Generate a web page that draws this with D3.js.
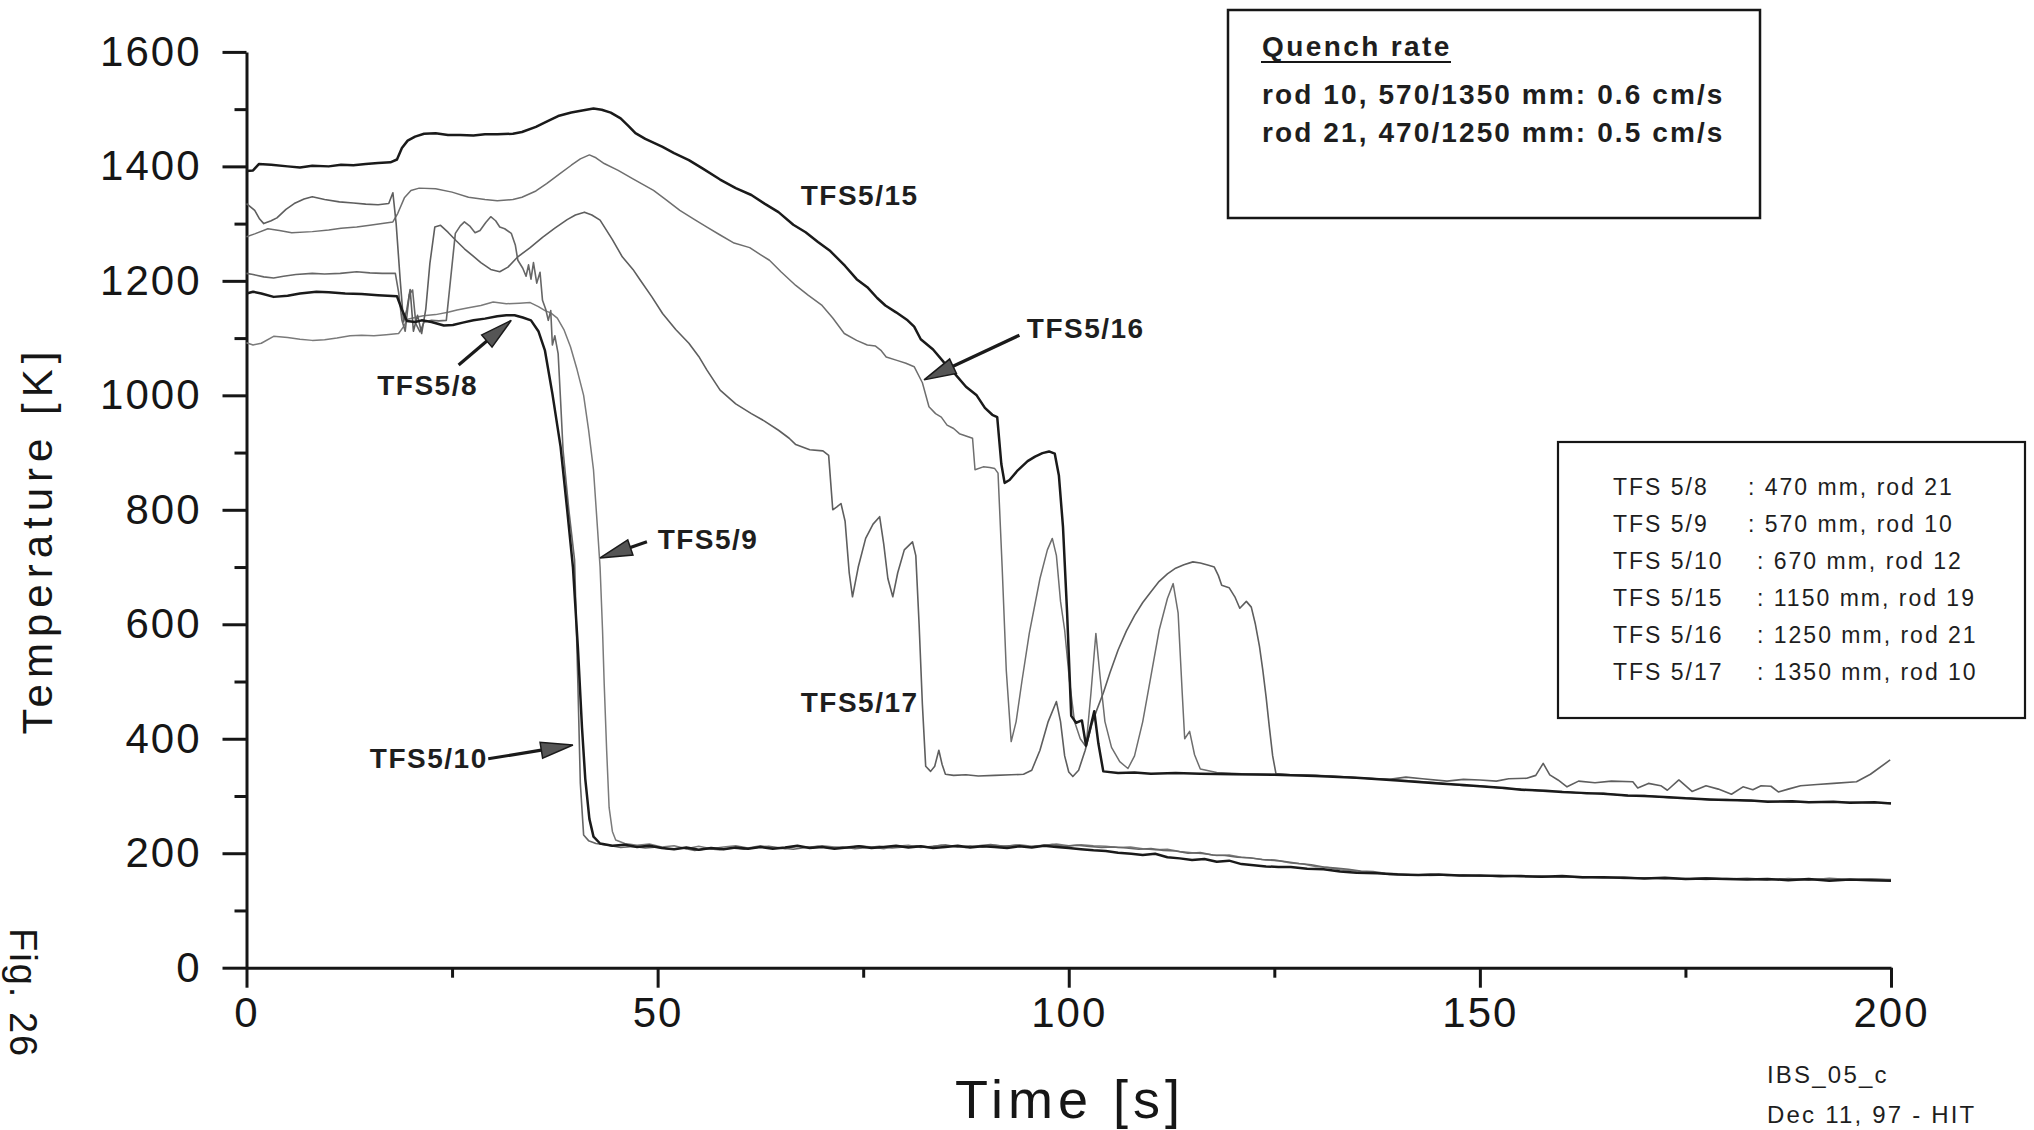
<!DOCTYPE html>
<html>
<head>
<meta charset="utf-8">
<script src="https://cdn.jsdelivr.net/npm/d3@7"></script>
<style>
  body { margin: 0; background: #fff; }
  svg { display: block; }
</style>
</head>
<body>
<svg id="chart" width="2034" height="1130"></svg>
<script>
// ---- Temperature histories, [time s, temperature K] ----
const tfs5_15 = [[0,1392],[0.8,1393],[1.5,1404],[3,1403],[5,1400],[6.5,1398],[8,1401],[10,1400],[11.5,1403],[13,1402],[14.5,1404],[16,1406],[17.5,1407],[18.3,1412],[18.9,1432],[19.6,1445],[20.5,1452],[21.6,1457],[23,1458],[24.5,1455],[26,1455],[27.6,1454],[29,1456],[30.5,1456],[32.4,1457],[33.5,1460],[35.2,1469],[36.5,1478],[37.9,1488],[39.5,1494],[41,1498],[42.2,1501],[43.2,1499],[44.3,1494],[45.5,1484],[46.5,1470],[47.3,1458],[48.5,1448],[50.6,1434],[52,1423],[53.8,1411],[55.5,1396],[57.6,1377],[59.5,1362],[61.4,1350],[63,1335],[64.7,1320],[66.5,1298],[68,1285],[69.5,1268],[71,1252],[72.8,1226],[74.2,1203],[75.5,1189],[76.7,1170],[77.7,1157],[79,1145],[80.4,1131],[81.2,1120],[82,1098],[83.5,1080],[84.8,1058],[86,1040],[87.5,1015],[88.8,1000],[89.8,978],[90.7,966],[91.3,962],[91.8,880],[92.2,847],[92.8,852],[93.8,869],[95,885],[95.9,893],[96.8,899],[97.6,902],[98.3,898],[98.8,860],[99.3,770],[99.8,620],[100.3,440],[100.9,428],[101.6,432],[102.1,388],[102.6,418],[103.1,448],[103.6,392],[104.2,343],[106,340],[108,341],[110,339],[113,340],[116,339],[120,338],[125,337],[130,335],[135,332],[140,327],[145,322],[148,319],[150,317],[153,314],[155,311],[158,309],[160,307],[163,305],[165,304],[168,301],[170,300],[173,298],[175,296],[178,294],[180,293],[183,292],[185,290],[188,291],[190,289],[193,290],[195,288],[198,289],[200,287]];

const tfs5_16 = [[0,1277],[1,1282],[2.6,1291],[4,1288],[5.5,1284],[8,1286],[10,1289],[11.5,1292],[13.4,1294],[15,1297],[16.5,1300],[17.8,1303],[18.4,1318],[19.2,1345],[20,1358],[21,1362],[23,1361],[25,1355],[27,1346],[29,1342],[30.5,1340],[32.4,1342],[33.5,1346],[35.2,1357],[36.5,1370],[38,1386],[39.5,1402],[40.6,1413],[41.7,1420],[42.5,1415],[43.5,1405],[45.2,1393],[47,1378],[49.5,1358],[51,1342],[52.7,1323],[54.5,1307],[56,1294],[57.5,1281],[59.3,1266],[61.2,1258],[62.5,1246],[63.6,1236],[65,1216],[66.8,1192],[68.3,1175],[70,1157],[71.3,1135],[72.7,1108],[74.2,1096],[75.5,1088],[76.5,1086],[77.2,1078],[77.8,1067],[79.1,1061],[80.2,1056],[81.2,1050],[82.2,1022],[83,980],[83.8,968],[84.5,962],[85.2,948],[86,942],[86.7,933],[87.5,929],[88.3,925],[88.6,870],[89.6,875],[90.4,874],[91,872],[91.4,864],[91.9,700],[92.4,520],[93,395],[93.6,430],[94.3,500],[95.2,584],[96.5,680],[97.4,730],[98,750],[98.5,720],[99,640],[99.5,590],[100.1,500],[100.7,430],[101.4,400],[102.1,386],[102.7,480],[103.3,584],[103.8,510],[104.4,430],[105.2,385],[106.2,360],[107.2,348],[108,370],[109,430],[110,510],[111,590],[112,645],[112.7,671],[113.3,620],[113.8,480],[114.1,400],[114.7,413],[115.3,372],[116,347],[118,341],[121,339],[125,338],[130,336],[135,332],[140,328],[145,323],[148,318],[150,318],[153,313],[155,312],[158,308],[160,308],[163,304],[165,305],[168,300],[170,301],[173,297],[175,297],[178,293],[180,294],[183,291],[185,291],[188,289],[190,290],[193,289],[195,289],[198,288],[200,288]];

const tfs5_17 = [[0,1335],[1,1323],[1.6,1308],[2.1,1300],[3,1305],[3.7,1310],[4.8,1325],[5.8,1335],[7,1343],[8,1347],[9.5,1342],[11.3,1338],[13,1336],[14.5,1334],[16,1333],[17.3,1335],[17.8,1354],[18.2,1300],[18.7,1200],[19.1,1128],[19.5,1150],[19.9,1185],[20.3,1112],[20.8,1140],[21.3,1108],[21.8,1150],[22.3,1230],[22.9,1294],[23.6,1297],[24.5,1285],[25.5,1270],[26.5,1256],[27.5,1244],[28.5,1232],[29.7,1220],[30.8,1216],[31.8,1224],[33,1242],[34.5,1258],[36,1276],[37.5,1292],[39,1307],[40,1315],[41.1,1320],[42,1315],[43,1306],[44.5,1272],[45.7,1242],[47,1220],[47.9,1201],[49.3,1172],[50.6,1143],[52.2,1115],[53.8,1091],[55,1068],[56,1044],[57.6,1009],[59.5,985],[61.4,968],[63,955],[64.7,939],[66,925],[66.8,914],[68.5,905],[70.1,903],[70.8,895],[71.3,800],[71.8,805],[72.3,811],[72.8,780],[73.3,690],[73.7,648],[74.4,700],[75.3,750],[76.2,775],[77,788],[77.5,740],[78,680],[78.6,648],[79.2,690],[80,730],[81,744],[81.4,720],[81.8,600],[82.2,460],[82.6,352],[83.2,343],[83.7,352],[84.2,380],[84.6,355],[85,338],[86,336],[87.5,337],[89,335],[91,336],[93,337],[94.5,338],[95.5,345],[96.5,380],[97.5,430],[98.5,465],[99,430],[99.5,370],[100,342],[100.5,334],[101.2,345],[102,380],[102.8,425],[103.4,450],[104.2,480],[105,515],[106,555],[107,588],[108,615],[109,638],[110,657],[111,675],[112,688],[113,698],[114,704],[115.1,709],[116,707],[117,703],[117.7,700],[118.2,685],[118.6,668],[119.5,664],[120.2,648],[120.8,628],[121.6,640],[122.2,630],[122.7,600],[123.2,561],[123.6,520],[124,473],[124.4,420],[124.8,370],[125.2,339],[127,337],[130,336],[133,334],[136,331],[139,329],[141,333],[143,330],[146,326],[148,329],[150,328],[152,326],[153.5,330],[155.7,331],[156.8,336],[157.7,357],[158.5,337],[159.5,328],[160.6,316],[162,326],[164,323],[166,326],[168.6,325],[169.2,314],[170.5,322],[172,318],[172.8,310],[174.2,328],[175.8,308],[177.5,318],[179,312],[180.6,303],[182,316],[183.2,311],[184.2,318],[185.4,317],[186.3,307],[187.5,312],[189,318],[191,320],[193,322],[195.8,325],[197.5,338],[199.9,363]];

const tfs5_8 = [[0,1178],[0.8,1181],[1.8,1178],[3.3,1172],[5,1174],[6.5,1178],[8.5,1181],[10,1180],[12,1178],[14,1177],[16,1175],[18.3,1173],[18.9,1150],[19.5,1130],[20.5,1128],[21.3,1131],[22.5,1128],[24,1122],[25.1,1123],[26.3,1127],[27.6,1131],[29,1134],[30.5,1138],[31.6,1140],[32.6,1140],[33.6,1136],[34.6,1131],[35.5,1112],[36.3,1078],[37.2,1003],[38.2,910],[39,800],[39.7,700],[40.3,560],[40.8,420],[41.2,330],[41.7,260],[42.2,229],[43,217],[44.5,213],[46,215],[47.5,211],[49,213],[50.5,209],[52,207],[53.5,210],[55,206],[56.5,209],[58,207],[59.5,210],[61,208],[62.5,211],[64,208],[65.5,210],[67,213],[68.5,209],[70,211],[71.5,208],[73,210],[74.5,212],[76,209],[77.5,211],[79,213],[80.5,210],[82,212],[83.5,209],[85,211],[86.5,213],[88,210],[89.5,212],[91,211],[92.5,209],[94,212],[95.5,210],[97,213],[98.5,211],[100,209],[101.5,207],[103,205],[104.5,204],[106,201],[107.6,199],[109,197],[110.5,199],[112,193],[113.5,191],[115,188],[116.5,190],[118,185],[119.5,187],[121,181],[122.5,179],[124,177],[125.5,176],[127,176],[129,173],[131,172],[133,168],[135,166],[137.5,165],[140,163],[142.5,162],[145,163],[147.5,161],[150,161],[152.5,160],[155,160],[157.5,159],[160,160],[162.5,158],[165,158],[167.5,157],[170,156],[172.5,157],[175,155],[177.5,156],[180,155],[182.5,154],[185,155],[187.5,153],[190,155],[192.5,152],[195,154],[197.5,153],[200,152]];

const tfs5_9 = [[0,1092],[0.8,1088],[1.8,1091],[3.3,1103],[5,1101],[6.5,1098],[8,1096],[9.5,1097],[11,1100],[12.6,1104],[14,1105],[15.5,1104],[17,1106],[18.5,1108],[19.1,1120],[19.6,1133],[20.5,1136],[21.5,1139],[23,1141],[24.5,1145],[25.6,1149],[27,1153],[28.5,1157],[30,1163],[31.6,1160],[33.2,1161],[34.5,1162],[35.5,1155],[36.3,1148],[37,1144],[37.8,1135],[38.6,1115],[39.4,1085],[40.2,1045],[41,1000],[41.6,940],[42.2,870],[42.7,765],[43,700],[43.3,590],[43.5,497],[43.8,380],[44.1,280],[44.5,238],[44.9,223],[46,217],[47.5,214],[49,216],[50.5,211],[52,213],[53.5,208],[55,212],[56.5,208],[58,211],[59.5,213],[61,209],[62.5,213],[64,210],[65.5,208],[67,212],[68.5,210],[70,213],[71.5,211],[73,209],[74.5,213],[76,211],[77.5,208],[79,212],[80.5,214],[82,210],[83.5,212],[85,215],[86.5,211],[88,213],[89.5,211],[91,214],[92.5,212],[94,215],[95.5,212],[97,214],[98.5,216],[100,213],[101.5,215],[103,213],[104.5,212],[106,210],[107.5,211],[109,208],[110.5,206],[112,207],[113.5,203],[115,201],[116.5,199],[118,196],[119.5,197],[121,193],[122.5,191],[124,188],[125.5,187],[127,183],[128.5,181],[130,177],[131.5,175],[133,171],[134.5,170],[136,167],[137.5,166],[139,163],[140.5,163],[142,162],[144,161],[146,162],[148,160],[150,161],[152.5,159],[155,160],[157.5,158],[160,159],[162.5,157],[165,158],[167.5,156],[170,157],[172.5,155],[175,156],[177.5,154],[180,156],[182.5,155],[185,153],[187.5,156],[190,154],[192.5,155],[195,153],[197.5,155],[200,154]];

const tfs5_10 = [[0,1213],[0.8,1211],[2.1,1207],[3.3,1205],[4.5,1208],[6,1211],[8,1213],[9.5,1212],[11.4,1213],[13.4,1216],[15,1214],[16.5,1213],[18.1,1213],[18.5,1180],[18.9,1131],[19.3,1112],[19.8,1176],[20.2,1184],[20.6,1125],[21.1,1111],[21.6,1128],[22.5,1131],[23.4,1130],[24.3,1131],[24.8,1200],[25.4,1283],[26,1296],[26.5,1303],[27.2,1295],[27.8,1284],[28.4,1288],[29.1,1302],[29.7,1312],[30.3,1305],[30.8,1294],[31.4,1291],[32.2,1283],[32.7,1262],[33,1236],[33.6,1222],[34,1208],[34.3,1228],[34.6,1203],[34.9,1232],[35.3,1196],[35.7,1215],[36,1166],[36.4,1150],[36.7,1131],[37,1148],[37.2,1088],[37.5,1104],[37.9,1073],[38.2,990],[38.5,904],[39.2,800],[39.9,712],[40.3,497],[40.6,322],[41,232],[41.6,222],[42.5,217],[44,214],[45.5,210],[47,212],[48.5,209],[50,211],[51.5,207],[53,209],[54.5,205],[56,208],[57.5,206],[59,209],[60.5,207],[62,210],[63.5,212],[65,209],[66.5,207],[68,210],[69.5,212],[71,209],[72.5,211],[74,208],[75.5,210],[77,212],[78.5,209],[80,211],[81.5,213],[83,211],[84.5,214],[86,212],[87.5,210],[89,213],[90.5,215],[92,212],[93.5,214],[95,211],[96.5,213],[98,215],[99.5,212],[101,214],[102.5,212],[104,210],[105.5,211],[107,209],[108.5,207],[110,208],[111.5,205],[113,204],[114.5,200],[116,201],[117.5,197],[119,196],[120.5,193],[122,192],[123.5,189],[125,188],[126.5,185],[128,182],[129.5,180],[131,176],[132.5,174],[134,172],[135.5,169],[137,168],[138.5,165],[140,164],[142,162],[144,163],[146,161],[148,162],[150,160],[152.5,161],[155,159],[157.5,160],[160,158],[162.5,159],[165,157],[167.5,158],[170,156],[172.5,157],[175,155],[177.5,157],[180,155],[182.5,156],[185,154],[187.5,155],[190,153],[192.5,156],[195,154],[197.5,155],[200,153]];

// ---- Axis ticks ----
const xMajorTicks = [0, 50, 100, 150, 200];
const xMinorTicks = [25, 75, 125, 175];
const yMajorTicks = [0, 200, 400, 600, 800, 1000, 1200, 1400, 1600];
const yMinorTicks = [100, 300, 500, 700, 900, 1100, 1300, 1500];

// ---- Legend / info text ----
const legendNames = ["TFS 5/8", "TFS 5/9", "TFS 5/10", "TFS 5/15", "TFS 5/16", "TFS 5/17"];
const legendInfo = [": 470 mm, rod 21", ": 570 mm, rod 10", ": 670 mm, rod 12", ": 1150 mm, rod 19", ": 1250 mm, rod 21", ": 1350 mm, rod 10"];
const quenchTitle = "Quench rate";
const quenchLines = ["rod 10, 570/1350 mm: 0.6 cm/s", "rod 21, 470/1250 mm: 0.5 cm/s"];

// ---- Curve labels: text, anchor [s, K], optional arrow from/to [s, K] ----
const calloutText = ["TFS5/15", "TFS5/16", "TFS5/8", "TFS5/9", "TFS5/10", "TFS5/17"];
const calloutAnchor = [[67.4, 1332], [94.9, 1100], [15.9, 1000], [50.0, 731], [15.0, 349], [67.4, 447]];
const calloutArrowFrom = [null, [94.0, 1105], [25.8, 1053], [48.7, 744], [29.4, 365], null];
const calloutArrowTo = [null, [82.4, 1027], [32.2, 1131], [43.0, 716], [39.7, 389], null];

// ---- Drawing ----
const svg = d3.select("#chart");
svg.append("rect").attr("width", 2034).attr("height", 1130).attr("fill", "#fff");

const x = d3.scaleLinear().domain([0, 200]).range([246.5, 1891]);
const y = d3.scaleLinear().domain([0, 1600]).range([967.7, 51.9]);

const FONT = "'Liberation Sans', Arial, Helvetica, sans-serif";
const INK = "#161616";

// series styling (order = draw order, dark lines on top)
const seriesList = [
  { data: tfs5_9,  color: "#7a7a7a", width: 1.5 },
  { data: tfs5_10, color: "#666",    width: 1.6 },
  { data: tfs5_16, color: "#6e6e6e", width: 1.5 },
  { data: tfs5_17, color: "#5e5e5e", width: 1.6 },
  { data: tfs5_8,  color: "#1a1a1a", width: 2.5 },
  { data: tfs5_15, color: "#1a1a1a", width: 2.5 }
];

// axes
const fmt = d3.format("d");
const yMinor = svg.append("g").attr("transform", `translate(${x(0)},0)`)
  .call(d3.axisLeft(y).tickValues(yMinorTicks).tickSize(12).tickSizeOuter(0).tickFormat(""));
yMinor.select(".domain").remove();
const yMajor = svg.append("g").attr("transform", `translate(${x(0)},0)`)
  .call(d3.axisLeft(y).tickValues(yMajorTicks).tickSize(24).tickSizeOuter(0).tickPadding(21).tickFormat(fmt));

const xMinor = svg.append("g").attr("transform", `translate(0,${y(0)})`)
  .call(d3.axisBottom(x).tickValues(xMinorTicks).tickSize(10).tickSizeOuter(0).tickFormat(""));
xMinor.select(".domain").remove();
const xMajor = svg.append("g").attr("transform", `translate(0,${y(0)})`)
  .call(d3.axisBottom(x).tickValues(xMajorTicks).tickSize(20).tickSizeOuter(0).tickPadding(9).tickFormat(fmt));

svg.selectAll(".domain").attr("stroke", INK).attr("stroke-width", 3);
svg.selectAll(".tick line").attr("stroke", INK).attr("stroke-width", 3);
[yMajor, xMajor].forEach(g => g.selectAll("text")
  .attr("fill", INK)
  .style("font-family", FONT)
  .style("font-size", "42px")
  .style("letter-spacing", "2px"));

// axis titles
svg.append("text")
  .attr("transform", `translate(52,540) rotate(-90)`)
  .attr("text-anchor", "middle")
  .attr("fill", INK)
  .style("font-family", FONT).style("font-size", "42px").style("letter-spacing", "6px")
  .text("Temperature [K]");
svg.append("text")
  .attr("x", 1070).attr("y", 1118)
  .attr("text-anchor", "middle")
  .attr("fill", INK)
  .style("font-family", FONT).style("font-size", "54px").style("letter-spacing", "5px")
  .text("Time [s]");

// curves
const line = d3.line().x(d => x(d[0])).y(d => y(d[1]));
svg.append("g").selectAll("path").data(seriesList).join("path")
  .attr("d", s => line(s.data))
  .attr("fill", "none")
  .attr("stroke", s => s.color)
  .attr("stroke-width", s => s.width)
  .attr("stroke-linejoin", "round");

// curve labels and arrows
const callouts = calloutText.map((t, i) => ({ text: t, at: calloutAnchor[i], from: calloutArrowFrom[i], to: calloutArrowTo[i] }));
const cg = svg.append("g");
cg.selectAll("text").data(callouts).join("text")
  .attr("x", d => x(d.at[0])).attr("y", d => y(d.at[1]))
  .attr("fill", "#1e1e1e")
  .style("font-family", FONT).style("font-size", "28px").style("font-weight", "bold").style("letter-spacing", "1.5px")
  .text(d => d.text);

callouts.filter(d => d.from).forEach(d => {
  const x1 = x(d.from[0]), y1 = y(d.from[1]), x2 = x(d.to[0]), y2 = y(d.to[1]);
  const ang = Math.atan2(y2 - y1, x2 - x1);
  const L = 32, W = 8;
  const bx = x2 - L * Math.cos(ang), by = y2 - L * Math.sin(ang);
  cg.append("line")
    .attr("x1", x1).attr("y1", y1).attr("x2", bx).attr("y2", by)
    .attr("stroke", "#1a1a1a").attr("stroke-width", 3.2);
  const px = -Math.sin(ang) * W, py = Math.cos(ang) * W;
  cg.append("path")
    .attr("d", `M${x2},${y2}L${bx + px},${by + py}L${bx - px},${by - py}Z`)
    .attr("fill", "#555").attr("stroke", "#1a1a1a").attr("stroke-width", 1.5);
});

// quench rate box
const qb = svg.append("g");
qb.append("rect").attr("x", 1228).attr("y", 10).attr("width", 532).attr("height", 208)
  .attr("fill", "none").attr("stroke", INK).attr("stroke-width", 2.5);
qb.append("text").attr("x", 1262).attr("y", 56)
  .attr("fill", "#1e1e1e")
  .style("font-family", FONT).style("font-size", "28px").style("font-weight", "bold").style("letter-spacing", "2.4px")
  .text(quenchTitle);
qb.append("line").attr("x1", 1261).attr("x2", 1451).attr("y1", 62).attr("y2", 62)
  .attr("stroke", INK).attr("stroke-width", 2.2);
qb.selectAll("text.ql").data(quenchLines).join("text").attr("class", "ql")
  .attr("x", 1262).attr("y", (d, i) => 104 + i * 38)
  .attr("fill", "#1e1e1e")
  .style("font-family", FONT).style("font-size", "28px").style("font-weight", "bold").style("letter-spacing", "2.1px")
  .text(d => d);

// legend box
const lg = svg.append("g");
lg.append("rect").attr("x", 1558).attr("y", 442).attr("width", 467).attr("height", 276)
  .attr("fill", "none").attr("stroke", INK).attr("stroke-width", 2.2);
lg.selectAll("text.ln").data(legendNames).join("text").attr("class", "ln")
  .attr("x", 1613).attr("y", (d, i) => 495 + i * 36.9)
  .attr("fill", "#1e1e1e")
  .style("font-family", FONT).style("font-size", "23px").style("letter-spacing", "2px")
  .text(d => d);
lg.selectAll("text.li").data(legendInfo).join("text").attr("class", "li")
  .attr("x", (d, i) => i < 2 ? 1748 : 1757).attr("y", (d, i) => 495 + i * 36.9)
  .attr("fill", "#1e1e1e")
  .style("font-family", FONT).style("font-size", "23px").style("letter-spacing", "2px")
  .text(d => d);

// file stamp
svg.append("text").attr("x", 1767).attr("y", 1083).attr("fill", "#1e1e1e")
  .style("font-family", FONT).style("font-size", "24px").style("letter-spacing", "2.2px")
  .text("IBS_05_c");
svg.append("text").attr("x", 1767).attr("y", 1123).attr("fill", "#1e1e1e")
  .style("font-family", FONT).style("font-size", "24px").style("letter-spacing", "2.2px")
  .text("Dec 11, 97 - HIT");

// figure number, rotated at the page edge
svg.append("text")
  .attr("transform", "translate(10,928) rotate(90)")
  .attr("fill", INK)
  .style("font-family", FONT).style("font-size", "38px").style("letter-spacing", "2px")
  .text("Fig. 26");
</script>
</body>
</html>
